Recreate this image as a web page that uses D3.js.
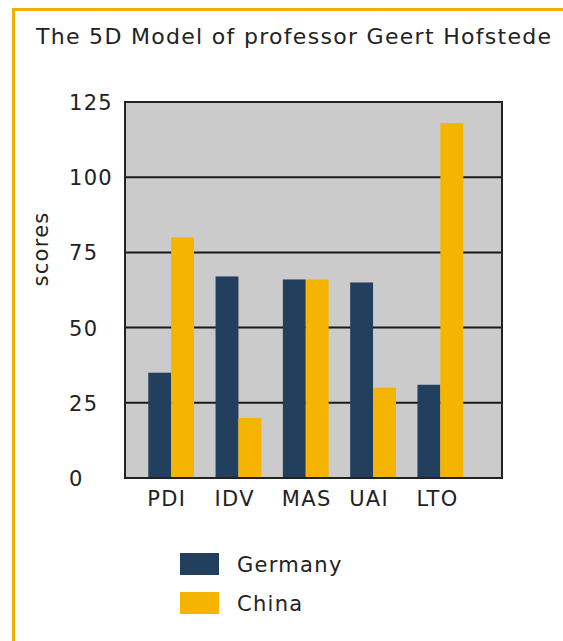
<!DOCTYPE html>
<html>
<head>
<meta charset="utf-8">
<script src="https://cdn.jsdelivr.net/npm/d3@7"></script>
<style>
  html, body { margin: 0; padding: 0; background: #fff; }
  svg { display: block; font-family: "DejaVu Sans", Verdana, sans-serif; }
</style>
</head>
<body>
<svg id="chart" width="563" height="641"></svg>
<script>
const title = "The 5D Model of professor Geert Hofstede";
const categories = ["PDI", "IDV", "MAS", "UAI", "LTO"];
const seriesNames = ["Germany", "China"];
const germany = [35, 67, 66, 65, 31];
const china = [80, 20, 66, 30, 118];
const yTicks = [0, 25, 50, 75, 100, 125];
const yLabel = "scores";
const colors = ["#233f5e", "#f4b400"];

const seriesValues = [germany, china];
const data = categories.map((c, i) => ({
  cat: c,
  values: seriesNames.map((s, k) => ({ series: s, value: seriesValues[k][i] }))
}));

const svg = d3.select("#chart");
const textColor = "#222";

// outer frame (orange border, only top and left visible)
svg.append("rect")
  .attr("x", 13.5).attr("y", 9.5)
  .attr("width", 700).attr("height", 800)
  .attr("fill", "#fff")
  .attr("stroke", "#f0b000").attr("stroke-width", 3);

// title
svg.append("text")
  .attr("x", 36).attr("y", 44)
  .attr("font-size", 22)
  .attr("letter-spacing", 1.3)
  .attr("fill", textColor)
  .text(title);

const plot = { left: 125, right: 502, top: 102, bottom: 478 };

const y = d3.scaleLinear().domain([0, 125]).range([plot.bottom, plot.top]);
const x0 = d3.scaleBand().domain(categories)
  .range([137.5, 474]).paddingInner(0.32).paddingOuter(0.16);
const x1 = d3.scaleBand().domain(seriesNames).range([0, x0.bandwidth()]);
const color = d3.scaleOrdinal().domain(seriesNames).range(colors);

// plot background
svg.append("rect")
  .attr("x", plot.left).attr("y", plot.top)
  .attr("width", plot.right - plot.left).attr("height", plot.bottom - plot.top)
  .attr("fill", "#cbcbcb");

// gridlines
svg.append("g").selectAll("line")
  .data(yTicks.filter(t => t > 0 && t < 125))
  .join("line")
  .attr("x1", plot.left).attr("x2", plot.right)
  .attr("y1", d => y(d)).attr("y2", d => y(d))
  .attr("stroke", "#1a1a1a").attr("stroke-width", 2);

// bars
const groups = svg.append("g").selectAll("g")
  .data(data)
  .join("g")
  .attr("transform", d => `translate(${x0(d.cat)},0)`);

groups.selectAll("rect")
  .data(d => d.values)
  .join("rect")
  .attr("x", d => x1(d.series))
  .attr("width", x1.bandwidth())
  .attr("y", d => y(d.value))
  .attr("height", d => y(0) - y(d.value))
  .attr("fill", d => color(d.series));

// plot border
svg.append("rect")
  .attr("x", plot.left).attr("y", plot.top)
  .attr("width", plot.right - plot.left).attr("height", plot.bottom - plot.top)
  .attr("fill", "none")
  .attr("stroke", "#222").attr("stroke-width", 2);

// y tick labels (left aligned)
svg.append("g").selectAll("text")
  .data(yTicks)
  .join("text")
  .attr("x", 69)
  .attr("y", d => y(d) + 8)
  .attr("font-size", 21)
  .attr("letter-spacing", 1.3)
  .attr("fill", textColor)
  .text(d => d);

// x category labels (left aligned to group start)
svg.append("g").selectAll("text")
  .data(categories)
  .join("text")
  .attr("x", d => x0(d) - 1)
  .attr("y", 506)
  .attr("font-size", 21)
  .attr("letter-spacing", 1.3)
  .attr("fill", textColor)
  .text(d => d);

// y axis title
svg.append("text")
  .attr("transform", "translate(48,249) rotate(-90)")
  .attr("text-anchor", "middle")
  .attr("font-size", 21)
  .attr("letter-spacing", 1.3)
  .attr("fill", textColor)
  .text(yLabel);

// legend
const legend = svg.append("g").selectAll("g")
  .data(seriesNames)
  .join("g")
  .attr("transform", (d, i) => `translate(180,${553 + i * 39})`);

legend.append("rect")
  .attr("width", 39).attr("height", 22)
  .attr("fill", d => color(d));

legend.append("text")
  .attr("x", 57).attr("y", 19)
  .attr("font-size", 21)
  .attr("letter-spacing", 1.3)
  .attr("fill", textColor)
  .text(d => d);
</script>
</body>
</html>
